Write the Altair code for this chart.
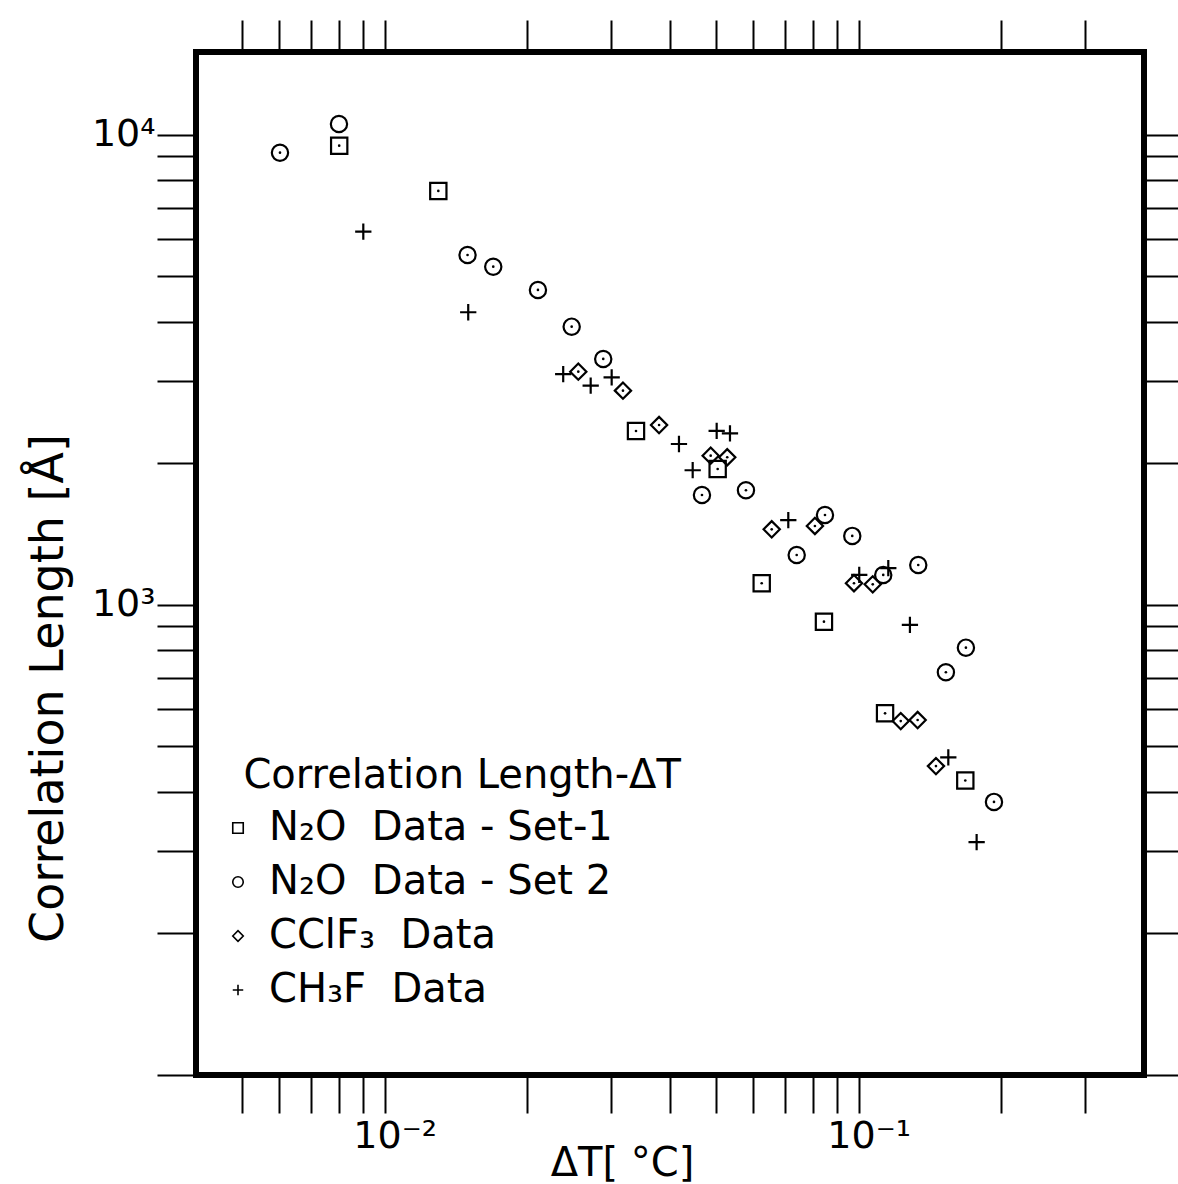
import altair as alt
import pandas as pd

# ---- data ----
series_names = ["N\u2082O\u00a0\u00a0Data - Set-1", "N\u2082O\u00a0\u00a0Data - Set 2",
                "CClF\u2083\u00a0\u00a0Data", "CH\u2083F\u00a0\u00a0Data"]

set1_dT = [0.00802, 0.01298, 0.03391, 0.05042, 0.06245, 0.0845, 0.1137, 0.1679]
set1_xi = [9480, 7595, 2344, 1946, 1112, 921, 588, 423]

set2_dT = [0.006015, 0.008011, 0.01496, 0.01695, 0.02106, 0.02481, 0.02892, 0.04672,
           0.05785, 0.07402, 0.08492, 0.09696, 0.1127, 0.1336, 0.1528, 0.1684, 0.1930]
set2_xi = [9161, 10544, 5551, 5241, 4677, 3907, 3336, 1713,
           1753, 1277, 1553, 1402, 1158, 1216, 719, 811, 381]
set2_dot = [True, False, True, True, True, True, True, True,
            True, True, True, True, True, True, True, True, True]

cclf3_dT = [0.02562, 0.03183, 0.03793, 0.04874, 0.05282, 0.06556, 0.08087, 0.09777,
            0.1071, 0.1227, 0.1332, 0.1456]
cclf3_xi = [3134, 2856, 2413, 2077, 2061, 1448, 1472, 1112, 1106, 566, 569, 454]

ch3f_dT = [0.009016, 0.01501, 0.02381, 0.02721, 0.03013, 0.04178, 0.04466, 0.05018,
           0.05353, 0.07106, 0.1003, 0.1155, 0.1283, 0.1546, 0.1774]
ch3f_xi = [6221, 4193, 3098, 2926, 3049, 2199, 1934, 2344, 2317, 1515, 1158, 1197,
           907, 474, 313]

x_ticks = [0.005, 0.006, 0.007, 0.008, 0.009, 0.01, 0.02, 0.03, 0.04, 0.05, 0.06,
           0.07, 0.08, 0.09, 0.1, 0.2, 0.3]
y_ticks = [100, 200, 300, 400, 500, 600, 700, 800, 900, 1000, 2000, 3000, 4000,
           5000, 6000, 7000, 8000, 9000, 10000]

legend_title = "\u200b\u00a0\u00a0Correlation Length-\u0394T"

rows = []
for x, y in zip(set1_dT, set1_xi):
    rows.append({"dT": x, "xi": y, "series": series_names[0], "dot": True})
for x, y, d in zip(set2_dT, set2_xi, set2_dot):
    rows.append({"dT": x, "xi": y, "series": series_names[1], "dot": d})
for x, y in zip(cclf3_dT, cclf3_xi):
    rows.append({"dT": x, "xi": y, "series": series_names[2], "dot": True})
for x, y in zip(ch3f_dT, ch3f_xi):
    rows.append({"dT": x, "xi": y, "series": series_names[3], "dot": False})
df = pd.DataFrame(rows)

FONT = "DejaVu Sans"
xscale = alt.Scale(type="log", domain=[0.004, 0.4], nice=False)
yscale = alt.Scale(type="log", domain=[100, 15000], nice=False)

shape_scale = alt.Scale(domain=series_names,
                        range=["square", "circle", "diamond", "M-1,0H1M0,-1V1"])

points = alt.Chart(df).mark_point(filled=False, color="black", strokeWidth=2.2,
                                  opacity=1, size=265).encode(
    x=alt.X("dT:Q", scale=xscale,
            axis=alt.Axis(values=x_ticks, orient="bottom",
                          labelExpr="datum.value == 0.01 ? '10\u207b\u00b2' : datum.value == 0.1 ? '10\u207b\u00b9' : ''",
                          labelOverlap=False, labelFlush=False,
                          tickSize=38, tickWidth=2, tickColor="black",
                          domain=False, grid=False,
                          labelFontSize=38, labelPadding=4, labelOffset=10,
                          labelColor="black", labelFont=FONT,
                          title="\u0394T[ \u00b0C]", titleFontSize=40,
                          titleFontWeight="normal", titleFont=FONT,
                          titleColor="black", titleX=426, titleY=100,
                          titleBaseline="alphabetic", titleAlign="center")),
    y=alt.Y("xi:Q", scale=yscale,
            axis=alt.Axis(values=y_ticks, orient="left",
                          labelExpr="datum.value == 10000 ? '10\u2074' : datum.value == 1000 ? '10\u00b3' : ''",
                          labelOverlap=False, labelFlush=False,
                          tickSize=39, tickWidth=2, tickColor="black",
                          domain=False, grid=False,
                          labelFontSize=38, labelPadding=2,
                          labelColor="black", labelFont=FONT,
                          title="Correlation Length [\u00c5]", titleFontSize=46,
                          titleFontWeight="normal", titleFont=FONT,
                          titleColor="black", titleAngle=270,
                          titleX=-148, titleY=636,
                          titleBaseline="middle", titleAlign="center")),
    shape=alt.Shape("series:N", scale=shape_scale,
                    legend=alt.Legend(title=legend_title,
                                      orient="none", legendX=22, legendY=704,
                                      titleFontSize=40, titleFontWeight="normal",
                                      titleFont=FONT, titleColor="black",
                                      labelFontSize=40, labelFont=FONT,
                                      labelColor="black", symbolSize=110,
                                      symbolStrokeWidth=1.6,
                                      symbolStrokeColor="black",
                                      symbolFillColor="transparent",
                                      labelOffset=11, rowPadding=14,
                                      titlePadding=12, padding=0,
                                      labelLimit=600, titleLimit=700)),
)

dots = alt.Chart(df).transform_filter("datum.dot").mark_point(
    filled=True, color="black", shape="circle", size=7, opacity=1).encode(
    x=alt.X("dT:Q", scale=xscale,
            axis=alt.Axis(values=x_ticks, orient="top", labels=False, title=None,
                          tickSize=32, tickWidth=2, tickColor="black",
                          domain=False, grid=False)),
    y=alt.Y("xi:Q", scale=yscale,
            axis=alt.Axis(values=y_ticks, orient="right", labels=False, title=None,
                          tickSize=34, tickWidth=2, tickColor="black",
                          domain=False, grid=False)),
)

chart = alt.layer(points, dots).resolve_axis(
    x="independent", y="independent"
).properties(
    width=948, height=1023,
    autosize=alt.AutoSizeParams(type="none"),
    padding={"left": 196, "top": 52, "right": 34, "bottom": 109},
).configure(
    background="white", font=FONT
).configure_view(
    stroke="black", strokeWidth=6
)

chart.save("out.html", embed_options={"renderer": "svg", "actions": False})
